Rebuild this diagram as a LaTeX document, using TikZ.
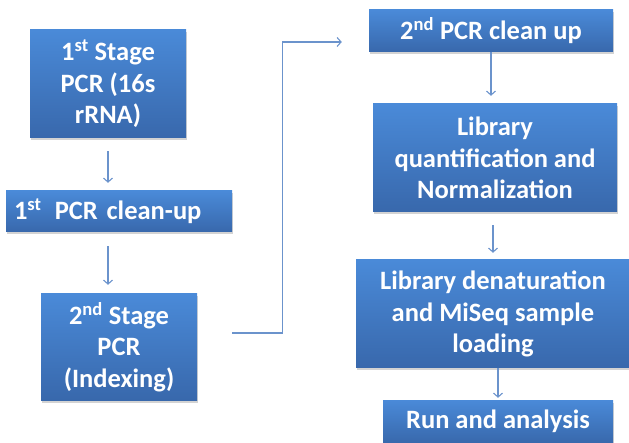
\documentclass[tikz,border=0pt]{standalone}
\usepackage{fontspec}
\setmainfont{Carlito}
\usepackage{tikz}
\usetikzlibrary{calc,shadows,arrows.meta}
\definecolor{boxtop}{HTML}{4A8AD8}
\definecolor{boxbot}{HTML}{3868AC}
\definecolor{linkblue}{HTML}{6B93CC}

\begin{document}
\begin{tikzpicture}[x=1pt,y=-1pt,>={Straight Barb[length=4pt,width=9pt]},
    stage/.style={draw=none, top color=boxtop, bottom color=boxbot, text=white,
        font=\bfseries\fontsize{26.5}{31.5}\selectfont, align=center, inner sep=0pt,
        drop shadow={shadow xshift=1pt, shadow yshift=-2.5pt, opacity=0.35}},
    link/.style={linkblue, line width=1.1pt}]

\useasboundingbox (0,0) rectangle (629,443);

%the left column
    \node[stage, minimum width=156, minimum height=108] (s1) at (108,84) {1\textsuperscript{st} Stage\\PCR (16s\\rRNA)};
    \node[stage, minimum width=226, minimum height=41, text width=210, align=left] (s2) at (119,211.5) {1\textsuperscript{st}\, PCR clean-up};
    \node[stage, minimum width=156, minimum height=106] (s3) at (119,347) {2\textsuperscript{nd} Stage\\PCR\\(Indexing)};

%the right column
    \node[stage, minimum width=244, minimum height=42] (s4) at (491,31) {2\textsuperscript{nd} PCR clean up};
    \node[stage, minimum width=244, minimum height=108] (s5) at (495,158) {Library\\quantification and\\Normalization};
    \node[stage, minimum width=274, minimum height=108] (s6) at (493,314) {Library denaturation\\and MiSeq sample\\loading};
    \node[stage, minimum width=230, minimum height=43] (s7) at (498,421.5) {Run and analysis};

%the arrows
    \draw[link,->, shorten <=13pt, shorten >=8pt] (s1.south) -- (s1.south |- s2.north);
    \draw[link,->, shorten <=14pt, shorten >=9pt] (s1.south |- s2.south) -- (s1.south |- s3.north);
    \draw[link,->] (s3.east) ++(35,-14) coordinate (c1) -| ($(c1)!0.5!(c1 -| s4.west)+(-18,0)$) |- ($(s4.west)+(-27,11)$);
    \draw[link,->, shorten >=8pt] (s4.south) -- (s4.south |- s5.north);
    \draw[link,->, shorten <=13pt, shorten >=7pt] (s5.south -| s6.north) -- (s6.north);
    \draw[link,->, shorten >=2pt] ($(s6.south)+(5,0)$) -- ($(s6.south |- s7.north)+(5,0)$);
\end{tikzpicture}
\end{document}
